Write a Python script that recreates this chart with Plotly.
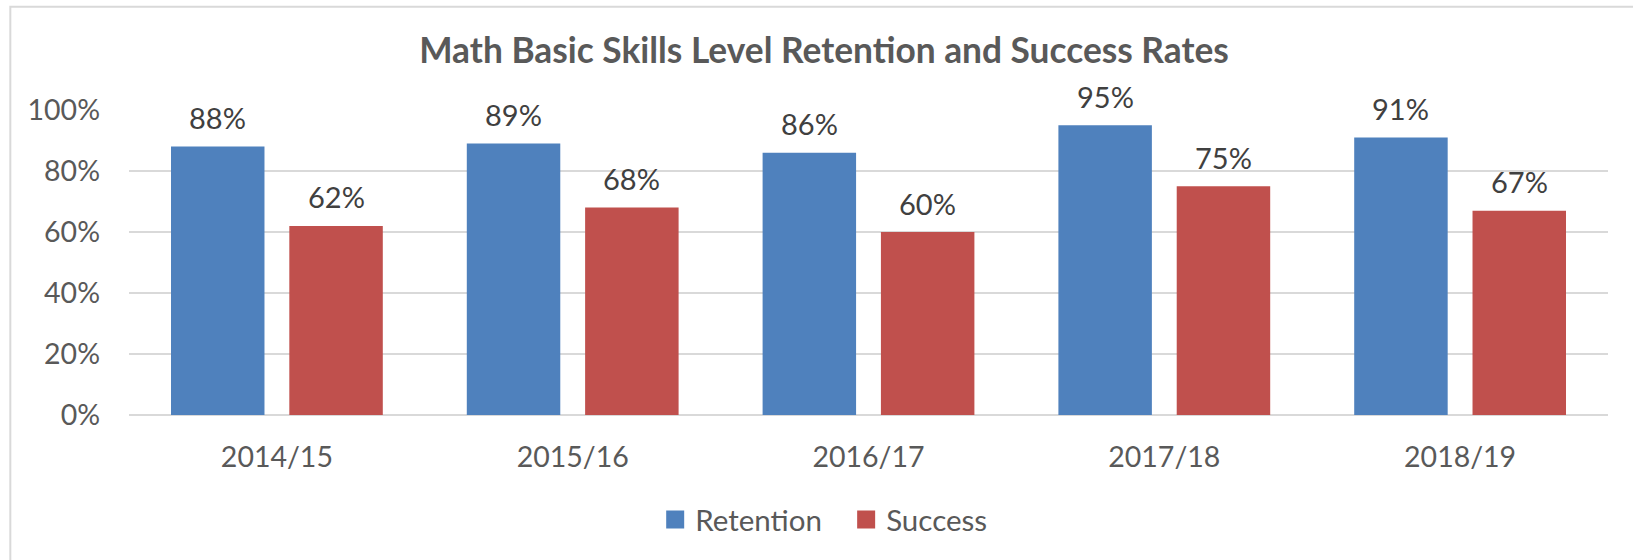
import plotly.graph_objects as go

categories = ["2014/15", "2015/16", "2016/17", "2017/18", "2018/19"]
retention = [0.88, 0.89, 0.86, 0.95, 0.91]
success = [0.62, 0.68, 0.60, 0.75, 0.67]
y_ticks = [0, 0.2, 0.4, 0.6, 0.8, 1.0]
y_tick_labels = ["0%", "20%", "40%", "60%", "80%", "100%"]

BLUE = "#4F81BD"
RED = "#C0504D"
TEXT = "#595959"
LABEL = "#404040"
GRID = "#D9D9D9"
FONT = "Lato"

W, H = 1633, 560
L, R, T, B = 128.7, 25, 110.3, 144.7
plot_w = W - L - R
plot_h = H - T - B

fig = go.Figure()
fig.add_trace(go.Bar(x=categories, y=retention, name="Retention",
                     marker=dict(color=BLUE, line=dict(width=0)), showlegend=False))
fig.add_trace(go.Bar(x=categories, y=success, name="Success",
                     marker=dict(color=RED, line=dict(width=0)), showlegend=False))
# legend entries with larger square swatches, each in its own legend box
for nm, col, lg in [("Retention", BLUE, "legend"), ("Success", RED, "legend2")]:
    fig.add_trace(go.Scatter(x=[None], y=[None], mode="markers", name=nm, legend=lg,
                             marker=dict(symbol="square", size=16, color=col,
                                         line=dict(color=col, width=2))))

# data labels via annotations
cat_w = plot_w / len(categories)
shift = cat_w * (1 - 0.2) / 4
for series, dx in [(retention, -shift), (success, shift)]:
    for c, v in zip(categories, series):
        fig.add_annotation(x=c, y=v, xref="x", yref="y", text=f"{round(v*100)}%",
                           showarrow=False, xshift=dx, yshift=29, yanchor="middle",
                           font=dict(family=FONT, size=29, color=LABEL))

fig.add_shape(type="rect", xref="paper", yref="paper",
              x0=(10 - L) / plot_w, x1=(W + 20 - L) / plot_w,
              y0=(T + plot_h - (H + 20)) / plot_h, y1=(T + plot_h - 7) / plot_h,
              line=dict(color=GRID, width=2), fillcolor="rgba(0,0,0,0)", layer="below")

leg_common = dict(orientation="h", xanchor="left",
                  y=(T + plot_h - 520) / plot_h, yanchor="middle",
                  font=dict(family=FONT, size=29.5, color=TEXT),
                  itemsizing="trace", bgcolor="rgba(0,0,0,0)")

fig.update_layout(
    width=W, height=H,
    margin=dict(l=L, r=R, t=T, b=B, autoexpand=False),
    paper_bgcolor="white", plot_bgcolor="white",
    barmode="group", bargap=0.2, bargroupgap=0.21,
    title=dict(text="Math Basic Skills Level Retention and Success Rates",
               x=824 / W, xanchor="center", xref="container",
               y=1 - 51 / H, yanchor="middle", yref="container",
               font=dict(family=FONT, size=35.3, color=TEXT, weight=700)),
    font=dict(family=FONT, size=28, color=TEXT),
    legend=dict(x=(655 - L) / plot_w, **leg_common),
    legend2=dict(x=(846 - L) / plot_w, **leg_common),
    xaxis=dict(showgrid=False, showline=False, ticks="", ticklabelstandoff=22,
               tickfont=dict(family=FONT, size=28.5, color=TEXT), fixedrange=True),
    yaxis=dict(range=[0, 1], tickvals=y_ticks, ticktext=y_tick_labels,
               showgrid=True, gridcolor=GRID, gridwidth=2,
               zeroline=True, zerolinecolor=GRID, zerolinewidth=2,
               showline=False, ticks="", ticklabelstandoff=28,
               tickfont=dict(family=FONT, size=28.5, color=TEXT), fixedrange=True),
)

fig.write_html("out.html", config={"displayModeBar": False},
               post_script="document.body.style.margin='0';document.body.style.overflow='hidden';")
